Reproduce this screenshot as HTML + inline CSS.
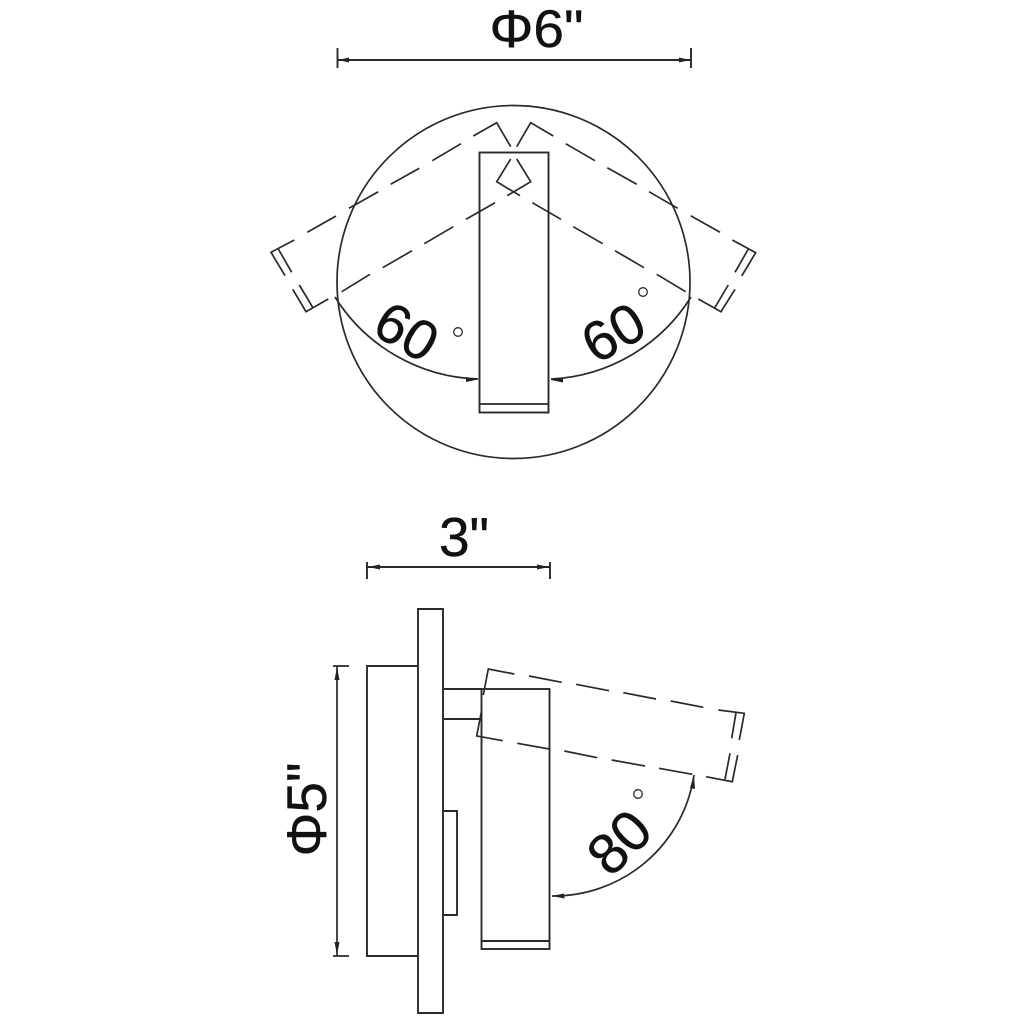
<!DOCTYPE html>
<html><head><meta charset="utf-8"><style>
html,body{margin:0;padding:0;background:#fff;width:1024px;height:1024px;overflow:hidden}
svg{display:block}
text{font-family:"Liberation Sans",sans-serif;fill:#111;stroke:#111;stroke-width:.4;text-anchor:middle}
</style></head><body>
<svg width="1024" height="1024" viewBox="0 0 1024 1024" xmlns="http://www.w3.org/2000/svg">
<g fill="none" stroke="#2a2a2a" stroke-width="1.7">
<circle cx="513.5" cy="282" r="176.5"/>
<rect x="479.5" y="152.5" width="69" height="260" stroke-width="1.9"/>
<path d="M479.5 404H548.5"/>
<circle cx="458" cy="332" r="4.3" stroke-width="1.3"/>
<circle cx="643" cy="292" r="4.3" stroke-width="1.3"/>
<circle cx="638" cy="794" r="4.3" stroke-width="1.3"/>
<path d="M335 297A175 175 0 0 0 478 379"/>
<path d="M691 297A175 175 0 0 1 551 379"/>
<path d="M473.3 136L496.7 122.7L510.7 146.7M461 143.7L432.3 160.7M419.3 168.3L390.7 184.3M378.3 191.7L349 208.3M336 216L307.3 232.3M294.3 240L271 252.3L285 275.7M278.3 249L291.7 272.3M292.7 289.3L306 311.7L328.3 299M299.3 285L312.7 307.3M341.7 291.7L370 274.3M382.7 267.7L412 250.7M424.3 243.7L453.3 226.7M466 219.3L495 202.7M507.3 195.7L530.7 181.7L516.7 159"/>
<path d="M553.3 136L530.7 122.7L516.7 146.7M565.7 143.7L595 160.7M607.3 167.7L636.7 184.3M649 191.7L677.7 208.3M690.7 215.7L720 232.3M732.3 240L755.7 252.7L741.7 276M748.3 249L735 272.3M735 289.3L721 311.7L698.3 299M728.3 285L715 307.3M685.7 291.7L656.7 274.3M644 267.7L615 250.7M602.7 243.7L573.3 226.7M561 219.3L532.3 202.7M520 195.7L496.7 181.7L510.7 159"/>
<path d="M337.5 48V68M691 48V68M337.5 60H691" stroke-width="1.9"/>
<path d="M367 562V579M550 562V579M367 567H550" stroke-width="1.9"/>
<path d="M333 666H349M333 956H349M337 666V956" stroke-width="1.7"/>
<path d="M418 609H443V1013H418ZM418 666H367V956H418M443 689H481.5M443 719H481M443 811H457V915H443" stroke-width="1.9"/>
<rect x="481.5" y="689" width="68" height="260" stroke-width="1.9"/>
<path d="M481.5 941H549.5" stroke-width="1.9"/>
<path d="M483.3 695L488.3 669L514.3 674M529 676L561.7 682.3M576 684.3L609 690.7M623.3 692.7L656 699M670.7 701L703.3 707.3M718.3 710L744.3 713.3L739.3 740M736 712.7L731.7 738.3M737.7 755L732.3 781.7L706 776.7M730 753.3L725 779.3M692.3 774.3L659 768.3M645 766L611.7 760M597.3 757.7L564.3 751M549.3 749L517.3 743.3M502.7 740.7L476.7 736L481.7 710"/>
<path d="M694 775A142 142 0 0 1 552 896"/>
</g>
<g fill="#222" stroke="none">
<path d="M338 60L349 57.5V62.5Z"/><path d="M690 60L679 57.5V62.5Z"/>
<path d="M368 567L380 564.5V569.5Z"/><path d="M549 567L537 564.5V569.5Z"/>
<path d="M337 667L334.5 680H339.5Z"/><path d="M337 955L334.5 942H339.5Z"/>
<path d="M478 379.5L466 377V382Z"/><path d="M551 380L563 377.5V382.5Z"/>
<path d="M694 775L690 788L695 789Z"/><path d="M552 896L564 893.5L564.5 898.5Z"/>
</g>
<text x="536.5" y="47" font-size="53" textLength="94" lengthAdjust="spacingAndGlyphs">Φ6"</text>
<text x="464" y="556" font-size="55">3"</text>
<text transform="translate(326 809.5) rotate(-90)" font-size="56" textLength="94" lengthAdjust="spacingAndGlyphs">Φ5"</text>
<text transform="translate(407 331) rotate(30) translate(0 20)" font-size="56">60</text>
<text transform="translate(613 332) rotate(-30) translate(0 20)" font-size="56">60</text>
<text transform="translate(619 842) rotate(-45) translate(0 20)" font-size="57">80</text>
</svg>
</body></html>
